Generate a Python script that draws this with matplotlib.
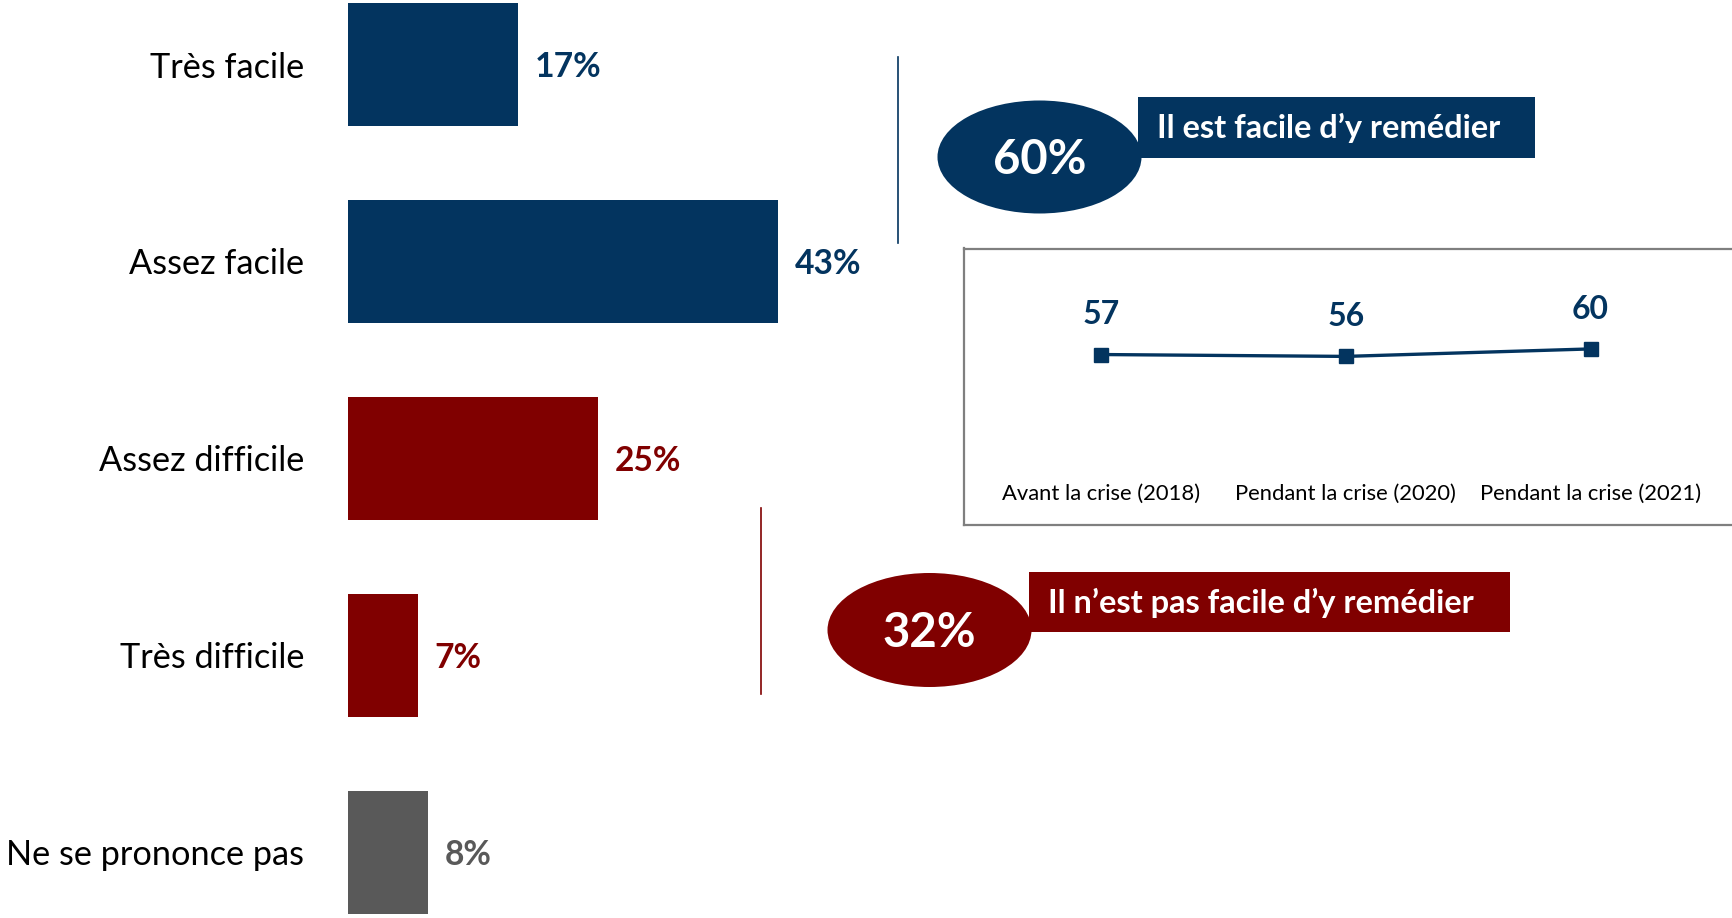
import matplotlib
matplotlib.use("Agg")
import matplotlib.pyplot as plt
from matplotlib.patches import Ellipse, Rectangle
import matplotlib.transforms as mtransforms

plt.rcParams['font.family'] = ['Lato', 'DejaVu Sans']

# ---------------- data ----------------
categories = ["Très facile", "Assez facile", "Assez difficile", "Très difficile", "Ne se prononce pas"]
values = [17, 43, 25, 7, 8]
groups = ["facile", "facile", "difficile", "difficile", "nsp"]

trend_labels = ["Avant la crise (2018)", "Pendant la crise (2020)", "Pendant la crise (2021)"]
trend_values = [57, 56, 60]

badge_easy_text = "Il est facile d’y remédier"
badge_hard_text = "Il n’est pas facile d’y remédier"

# ---------------- style ----------------
NAVY = "#03345F"
RED = "#800000"
GRAY = "#595959"
group_colors = {"facile": NAVY, "difficile": RED, "nsp": GRAY}

W, H = 1732, 918
fig = plt.figure(figsize=(W / 100, H / 100), dpi=100)


def fig_rect(x0, y0, x1, y1):
    """pixel box (top-left origin) -> figure fraction rect"""
    return [x0 / W, 1 - y1 / H, (x1 - x0) / W, (y1 - y0) / H]


# ---------------- overlay for decorations ----------------
ov = fig.add_axes([0, 0, 1, 1], zorder=0)
ov.set_xlim(0, W)
ov.set_ylim(H, 0)
ov.axis("off")

# ---------------- bar chart ----------------
ax = fig.add_axes(fig_rect(348, 0, 848, H), zorder=2)
ax.patch.set_alpha(0)
ypos = list(range(len(categories)))
cols = [group_colors[g] for g in groups]
bars = ax.barh(ypos, values, height=0.623, color=cols, edgecolor="none")
ax.set_xlim(0, 50)
ax.set_ylim(4.334, -0.328)
for s in ax.spines.values():
    s.set_visible(False)
ax.set_xticks([])
ax.set_yticks(ypos, categories, fontsize=24.7, color="#000000")
ax.tick_params(axis="y", length=0, pad=31.5)
labels = ax.bar_label(bars, labels=[f"{v}%" for v in values], padding=12,
                      fontsize=24.2, fontweight="bold")
for t, c in zip(labels, cols):
    t.set_color(c)
    t.set_va("center")
    x, y = t.xyann
    t.xyann = (x, y - 2)

# ---------------- vertical separators ----------------
ov.plot([898, 898], [57, 243], color=NAVY, lw=1.2)
ov.plot([761, 761], [508, 694], color=RED, lw=1.2)

# ---------------- badges ----------------
easy_total = sum(v for v, g in zip(values, groups) if g == "facile")
hard_total = sum(v for v, g in zip(values, groups) if g == "difficile")


def badge(cx, cy, ew, eh, rx0, ry0, rx1, ry1, color, big, text, tx, ty, tsize):
    ov.add_patch(Ellipse((cx, cy), ew, eh, color=color, lw=0))
    ov.add_patch(Rectangle((rx0, ry0), rx1 - rx0, ry1 - ry0, color=color, lw=0))
    ov.text(cx, cy + 3, big, color="white", fontsize=34, fontweight="bold",
            ha="center", va="center")
    ov.text(tx, ty, text, color="white", fontsize=tsize, fontweight="bold",
            ha="center", va="center")


badge(1039.5, 157, 204, 113, 1138, 97, 1535, 158, NAVY, f"{easy_total}%",
      badge_easy_text, 1329, 128, 23.4)
badge(929.5, 630, 204, 114, 1029, 572, 1510, 632, RED, f"{hard_total}%",
      badge_hard_text, 1261, 603, 23.4)

# ---------------- trend inset ----------------
la = fig.add_axes(fig_rect(964, 248.5, 1745, 524.7), zorder=1)
la.set_facecolor("white")
xs = list(range(len(trend_values)))
la.plot(xs, trend_values, color=NAVY, lw=2.4, marker="s", ms=10)
la.set_xlim(-0.5596, (1745 - 1101) / 244.8)
la.set_ylim(-34, 113.7)
la.set_xticks([])
la.set_yticks([])
for name, s in la.spines.items():
    s.set_color("#7F7F7F")
    s.set_linewidth(1.6)
for x, v in zip(xs, trend_values):
    la.annotate(f"{v}", (x, v), xytext=(0, 28.5), textcoords="offset points",
                ha="center", va="center", fontsize=23, fontweight="bold", color=NAVY)
tr = mtransforms.blended_transform_factory(la.transData, la.transAxes)
for x, lab in zip(xs, trend_labels):
    la.text(x, 0.111, lab, transform=tr, ha="center", va="center",
            fontsize=15.8, color="#000000")

fig.savefig("out.png", dpi=100)
